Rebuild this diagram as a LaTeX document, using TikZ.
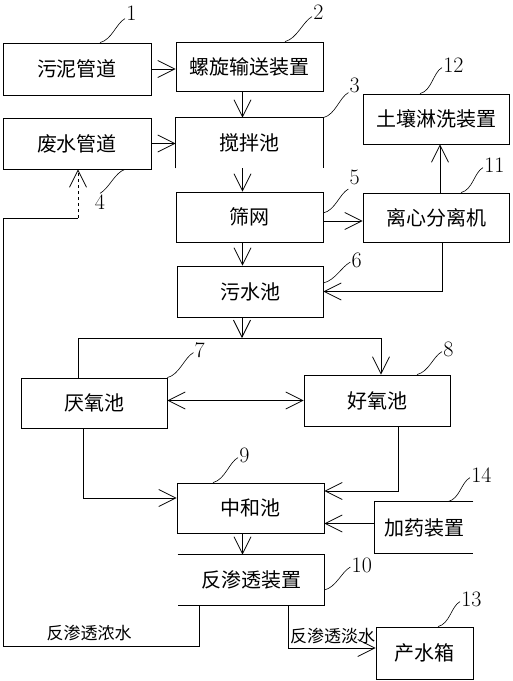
\documentclass[tikz,border=0pt]{standalone}
\usepackage{fontspec}
\newfontfamily\cjk{Noto Sans CJK SC}
\usetikzlibrary{arrows.meta,calc}

\tikzset{
	box/.style={draw, minimum width=147pt, minimum height=50pt, inner sep=2pt, font=\cjk\fontsize{20}{24}\selectfont},
	bare/.style={box, draw=none},
	num/.style={anchor=west, inner sep=1pt, yshift=2pt, font=\fontsize{22}{26}\selectfont},
	flowtxt/.style={inner sep=1pt, font=\cjk\fontsize{17}{20}\selectfont}
}

\begin{document}
\begin{tikzpicture}[>={Straight Barb[length=17pt,width=17pt]}, x=1pt, y=-1pt, line width=0.8pt]
	\useasboundingbox (0,0) rectangle (513,681);

	\begin{scope}
		\node[box, minimum width=148pt, minimum height=52pt] (wn) at (77,69) {污泥管道};
		\node[box, minimum height=49pt] (lx) at (249.5,66.5) {螺旋输送装置};
		\node[box, minimum width=148pt, minimum height=51pt] (fs) at (77,143.5) {废水管道};
		\node[bare] (jb) at (249.5,143) {搅拌池};
		\node[box] (sw) at (249.5,217) {筛网};
		\node[box, minimum width=146pt] (tr) at (436,119) {土壤淋洗装置};
		\node[box, minimum width=146pt, minimum height=49pt] (lxj) at (436,217.5) {离心分离机};
		\node[box, minimum width=146pt, minimum height=51pt] (ws) at (250,291.5) {污水池};
		\node[box, minimum width=146pt] (yy) at (94,403) {厌氧池};
		\node[box, minimum width=146pt, minimum height=51pt] (hy) at (377,400.5) {好氧池};
		\node[box] (zh) at (250.5,508) {中和池};
		\node[bare, minimum width=98pt, minimum height=51pt] (jy) at (424,527.5) {加药装置};
		\node[bare, minimum width=146pt] (fst) at (251,580) {反渗透装置};
		\node[box, minimum width=97pt, minimum height=52pt] (cs) at (424.5,653) {产水箱};

		\draw (jb.south west) -- (jb.north west) -- (jb.north east) -- (jb.south east);
		\draw (jy.north east) -- (jy.north west) -- (jy.south west) -- (jy.south east);
		\draw (fst.north west) -- (fst.north east) -- (fst.south east) -- (fst.south west);
	\end{scope}

	\begin{scope}
		\coordinate (spl) at (78,338);
		\coordinate (spr) at (381,338);
		\coordinate (c1) at (3,646);
		\coordinate (c2) at (3,218);
		\coordinate (c3) at (78,218);

		\draw[->] (wn.east) -- (wn.east -| lx.west);
		\draw[->] (fs.east) -- (fs.east -| jb.west);
		\draw[->] ([xshift=-7pt]lx.south) -- ([xshift=-7pt]jb.north);
		\draw[->] ([xshift=-7pt]jb.south) -- ([xshift=-7pt]sw.north);
		\draw[->] ([xshift=-7pt]sw.south) -- ([xshift=-7pt]sw.south |- ws.north);
		\draw[->] ([yshift=-4pt]sw.east) -- ([yshift=-4pt]sw.east -| lxj.west);
		\draw[->] ([xshift=4pt]lxj.north) -- ([xshift=4pt]lxj.north |- tr.south);
		\draw[->] ([xshift=6pt]lxj.south) |- (ws.east);

		\draw[->] ([xshift=-8pt]ws.south) -- ([xshift=-8pt]ws.south |- spl);
		\draw (spl |- yy.north) -- (spl) -- (spr);
		\draw[->] (spr) -- (spr |- hy.north);
		\draw[<->] (yy.east |- hy.west) -- (hy.west);

		\draw[->] ([xshift=-11pt]yy.south) |- ([yshift=10pt]zh.west);
		\draw[->] ([xshift=21pt]hy.south) |- ([yshift=17pt]zh.east);
		\draw[->] ([yshift=4pt]jy.west) -- ([yshift=4pt]jy.west -| zh.east);
		\draw[->] ([xshift=-8pt]zh.south) -- ([xshift=-8pt]zh.south |- fst.north);

		\draw ([xshift=-52pt]fst.south) |- (c1) node[flowtxt, pos=.78, above=4pt]{反渗透浓水} -- (c2) -- (c3);
		\draw[->,dashed] (c3) -- (c3 |- fs.south);
		\draw[->] ([xshift=37pt]fst.south) |- ([yshift=5pt]cs.west) node[flowtxt, pos=.755, above=3pt]{反渗透淡水};
	\end{scope}

	\begin{scope}[line width=0.6pt]
		\draw ([xshift=23pt]wn.north) .. controls +(12,-3) and +(-9,5) .. +(25,-24) node[num, yshift=3pt]{1};
		\draw ([xshift=35.5pt]lx.north) .. controls +(12,-3) and +(-9,5) .. +(27,-25) node[num, yshift=2pt]{2};
		\draw (jb.north east) .. controls +(12,-3) and +(-9,5) .. +(25,-25) node[num, yshift=5pt]{3};
		\draw ([xshift=-16pt]tr.north) .. controls +(12,-3) and +(-9,5) .. +(22,-26) node[num]{12};
		\draw ([xshift=25pt]lxj.north) .. controls +(12,-3) and +(-9,5) .. +(22,-25) node[num]{11};
		\draw ([yshift=4pt]sw.east) .. controls +(12,-3) and +(-9,5) .. +(25,-24) node[num, yshift=10pt]{5};
		\draw ([xshift=48pt]fs.south) .. controls +(-10,3) and +(9,-5) .. +(-25,24) node[below, inner sep=1pt, font=\fontsize{22}{26}\selectfont]{4};
		\draw ([yshift=8.5pt]ws.east) .. controls +(12,-3) and +(-9,5) .. +(27,-21) node[num, yshift=0pt]{6};
		\draw (yy.north east) .. controls +(12,-3) and +(-9,5) .. +(26,-25) node[num]{7};
		\draw ([xshift=40pt]hy.north) .. controls +(12,-3) and +(-9,5) .. +(25,-23) node[num]{8};
		\draw ([xshift=-37.5pt]zh.north) .. controls +(12,-3) and +(-9,5) .. +(25,-25) node[num]{9};
		\draw ([xshift=24pt]jy.north) .. controls +(12,-3) and +(-9,5) .. +(22,-24) node[num]{14};
		\draw ([yshift=-10pt]fst.east) .. controls +(12,-3) and +(-9,5) .. +(26,-23) node[num]{10};
		\draw ([xshift=13.5pt]cs.north) .. controls +(12,-3) and +(-9,5) .. +(22,-25) node[num]{13};
	\end{scope}
\end{tikzpicture}
\end{document}
